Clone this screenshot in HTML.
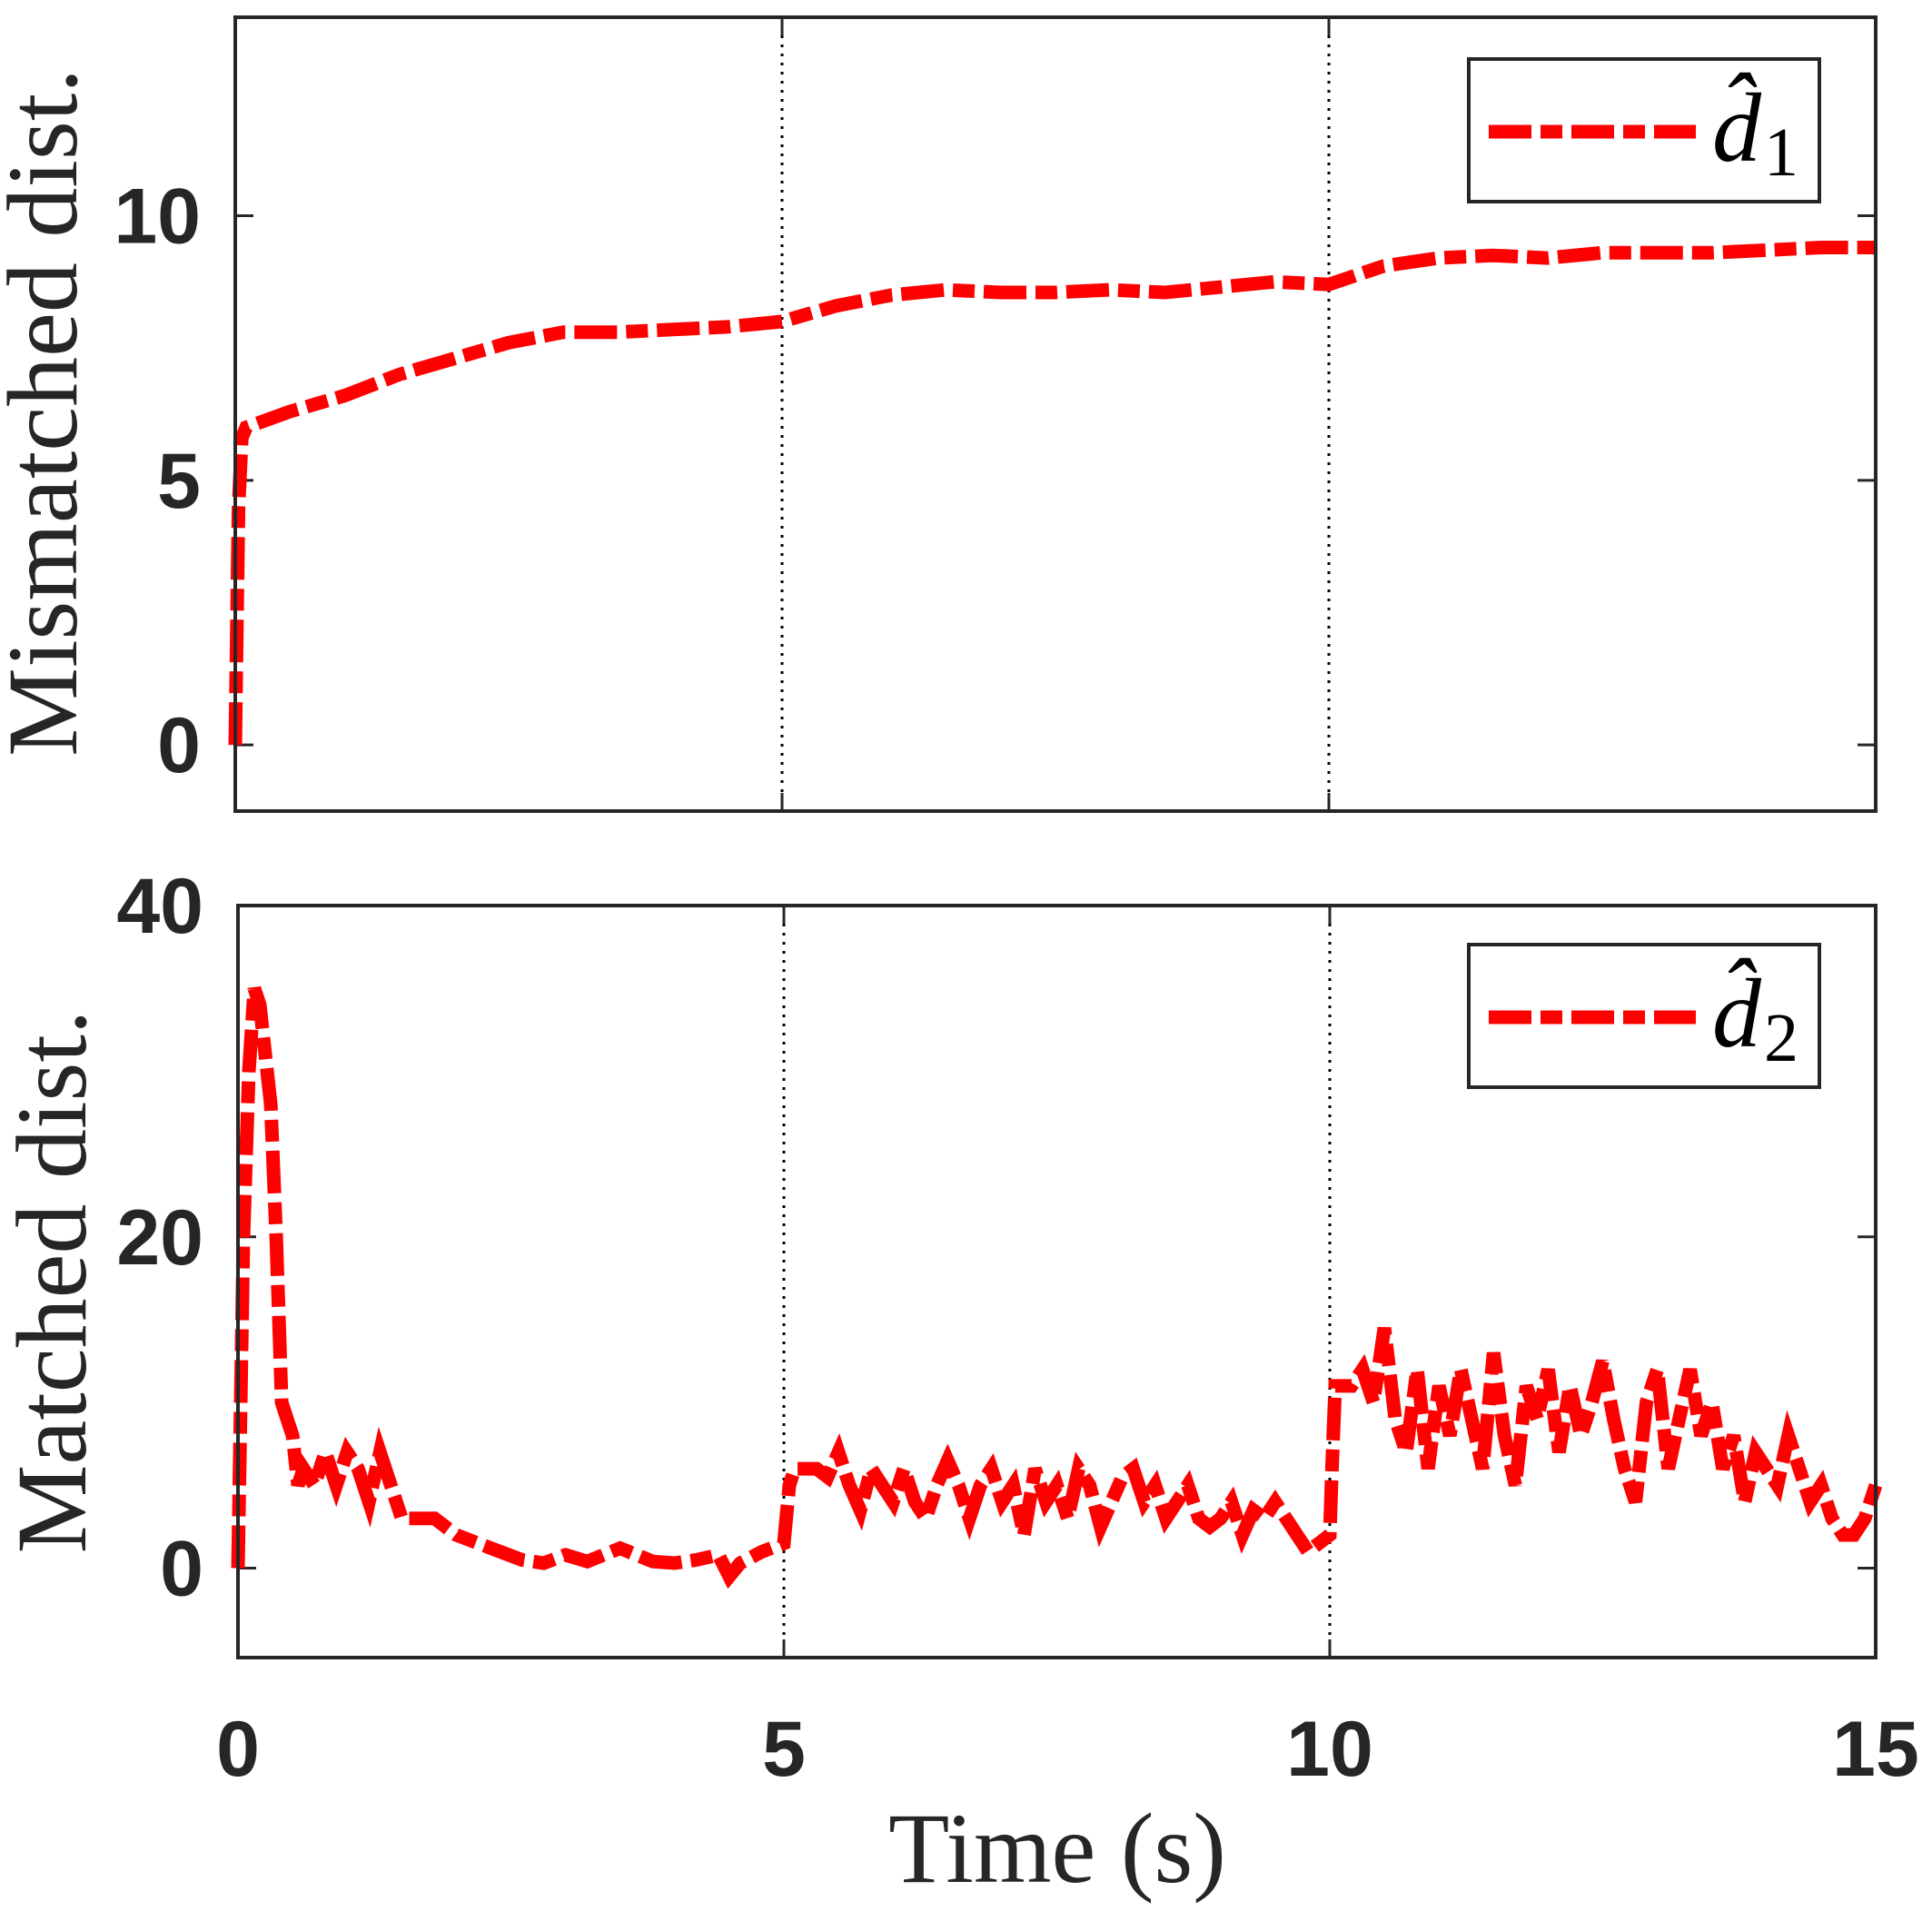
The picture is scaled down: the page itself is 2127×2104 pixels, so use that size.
<!DOCTYPE html>
<html><head><meta charset="utf-8"><style>
body{margin:0;background:#fff}
svg{display:block}
.tick{font-family:"Liberation Sans",sans-serif;font-weight:bold;font-size:86px;fill:#262626}
.ttl{font-family:"Liberation Serif",serif;font-size:110px;fill:#262626}
</style></head><body>
<svg id="chart" width="2127" height="2104" viewBox="0 0 2127 2104" xmlns="http://www.w3.org/2000/svg">
<g id="top"></g>
<g id="bot"></g>
<text class="ttl" x="1164" y="2072" text-anchor="middle">Time (s)</text>
<text class="ttl" transform="translate(84,454) rotate(-90)" text-anchor="middle">Mismatched dist.</text>
<text class="ttl" transform="translate(94,1411) rotate(-90)" text-anchor="middle">Matched dist.</text>
</svg>
<script>
const xTicks=[0,5,10,15];
const topYTicks=[0,5,10];
const botYTicks=[0,20,40];
const t1=[0,0.03,0.06,0.1,0.5,1,1.5,2,2.5,3,3.5,4,4.5,5,5.5,6,6.5,7,7.5,8,8.5,9,9.5,10,10.5,11,11.5,12,12.5,13,13.5,14,14.5,15];
const d1=[0,4.5,5.8,6.0,6.3,6.6,7.0,7.3,7.6,7.8,7.8,7.85,7.9,8.0,8.3,8.5,8.6,8.55,8.55,8.6,8.55,8.65,8.75,8.7,9.05,9.2,9.25,9.2,9.3,9.3,9.3,9.35,9.4,9.4];
const t2=[0,0.05,0.1,0.15,0.2,0.3,0.35,0.4,0.45,0.5,0.55,0.6,0.7,0.8,0.9,1.0,1.1,1.2,1.3,1.4,1.5,1.7,1.8,2,2.2,2.4,2.6,2.8,3,3.2,3.5,3.8,4,4.2,4.4,4.5,4.6,4.8,5,5.05,5.1,5.2,5.3,5.4,5.5,5.6,5.7,5.8,5.9,6.0,6.1,6.2,6.3,6.4,6.5,6.6,6.7,6.8,6.9,7.0,7.1,7.2,7.3,7.4,7.5,7.6,7.7,7.8,7.9,8.0,8.1,8.2,8.3,8.4,8.5,8.6,8.7,8.8,8.9,9.0,9.1,9.2,9.3,9.4,9.5,9.6,9.7,9.8,9.9,10,10.02,10.05,10.2,10.3,10.4,10.5,10.6,10.7,10.8,10.9,11.0,11.1,11.2,11.3,11.4,11.5,11.6,11.7,11.8,11.9,12.0,12.1,12.2,12.3,12.4,12.5,12.6,12.7,12.8,12.9,13.0,13.1,13.2,13.3,13.4,13.5,13.6,13.7,13.8,13.9,14.0,14.1,14.2,14.3,14.4,14.5,14.6,14.7,14.8,14.9,15];
const d2=[0,20,30,35,34,28,20,10,9,8,5,6,5,7,5,7,6,4,7,5,3,3,3,2,1.5,1,0.5,0.3,0.8,0.4,1.2,0.4,0.3,0.5,0.8,-0.5,0.3,1,1.5,5,6,6,6,5.5,7,5,3.5,6,5,4,6,4,3,5,6.5,5,3,5,6,4,5,2,6,4,5,3,6,5,2.5,4,5.5,6,4,5,3,4,5,3,2.5,3,4,2,3.5,3,4,3,2,1,1.5,2,6,11,11,12,10,14.5,9,7,12,6,11,8,12,9,6,13,8,5,11,9,12,7,11,8,10,12.5,9,6,4,10,12,6,9,12,8,10,6,8,4,7,6,5,8,6,4,5,3,2,2,3,5];
const NS="http://www.w3.org/2000/svg";
function mk(parent,tag,attrs){const e=document.createElementNS(NS,tag);for(const k in attrs)e.setAttribute(k,attrs[k]);parent.appendChild(e);return e;}
function panel(g,box,ylim,yTicks,ts,ds,sub,leg,showX,name){
  const xs=v=>box.l+(v-0)/(15-0)*(box.r-box.l);
  const ys=v=>box.b-(v-ylim[0])/(ylim[1]-ylim[0])*(box.b-box.t);
  [5,10].forEach(v=>{const l=mk(g,'line',{x1:xs(v),x2:xs(v),y1:box.t,y2:box.b,stroke:'#000','stroke-width':3,'stroke-dasharray':'3 7'});
    
    });
  yTicks.forEach(v=>{const y=ys(v);
    mk(g,'line',{x1:box.l,x2:box.l+20,y1:y,y2:y,stroke:'#262626','stroke-width':3});
    mk(g,'line',{x1:box.r,x2:box.r-20,y1:y,y2:y,stroke:'#262626','stroke-width':3});
    const tx=mk(g,'text',{class:'tick',x:box.l-38,y:y+30,'text-anchor':'end'});tx.textContent=v;
    
    });
  xTicks.forEach(v=>{const x=xs(v);
    mk(g,'line',{x1:x,x2:x,y1:box.b,y2:box.b-20,stroke:'#262626','stroke-width':3});
    mk(g,'line',{x1:x,x2:x,y1:box.t,y2:box.t+20,stroke:'#262626','stroke-width':3});
    if(showX){const tx=mk(g,'text',{class:'tick',x:x,y:1955,'text-anchor':'middle'});tx.textContent=v;
      
      }});
  const pts=ts.map((t,i)=>xs(t).toFixed(1)+','+ys(ds[i]).toFixed(1)).join(' ');
  const pl=mk(g,'polyline',{points:pts,fill:'none',stroke:'#ff0000','stroke-width':15,'stroke-dasharray':'47 10 24 10','stroke-linejoin':'miter'});
  
  
  const fr=mk(g,'rect',{x:box.l,y:box.t,width:box.r-box.l,height:box.b-box.t,fill:'none',stroke:'#262626','stroke-width':4});
  
  
  const lg=mk(g,'g',{});
  
  
  mk(lg,'rect',{x:1617,y:leg,width:386,height:157,fill:'#fff',stroke:'#262626','stroke-width':4});
  mk(lg,'line',{x1:1639,x2:1867,y1:leg+80,y2:leg+80,stroke:'#ff0000','stroke-width':15,'stroke-dasharray':'47 10 24 10'});
  const lt=mk(lg,'text',{x:1885,y:leg+112,'font-family':'"Liberation Serif",serif','font-style':'italic','font-size':108,fill:'#000'});
  lt.textContent='d\u0302';
  const st=mk(lg,'text',{x:1942,y:leg+128,'font-family':'"Liberation Serif",serif','font-size':76,fill:'#000'});
  st.textContent=sub;
}
panel(document.getElementById('top'),{l:259,r:2065,t:19,b:893},[-1.25,13.75],topYTicks,t1,d1,'1',65,false,'top');
panel(document.getElementById('bot'),{l:262,r:2065,t:997,b:1825},[-5.4,40],botYTicks,t2,d2,'2',1040,true,'bottom');
</script>
</body></html>
